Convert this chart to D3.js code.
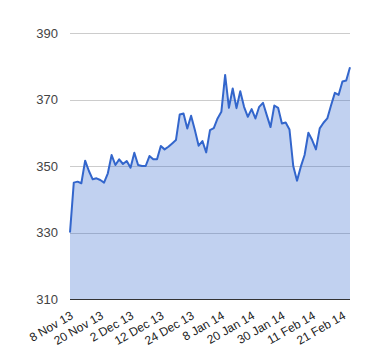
<!DOCTYPE html>
<html><head><meta charset="utf-8">
<script src="https://cdnjs.cloudflare.com/ajax/libs/d3/7.8.5/d3.min.js"></script>
<style>html,body{margin:0;padding:0;background:#fff;}svg{display:block;}</style>
</head><body>
<div id="chart"></div>
<script>
const dates = [
 "2013-11-08","2013-11-11","2013-11-12","2013-11-13","2013-11-14","2013-11-15",
 "2013-11-18","2013-11-19","2013-11-20","2013-11-21","2013-11-22",
 "2013-11-25","2013-11-26","2013-11-27","2013-11-28","2013-11-29",
 "2013-12-02","2013-12-03","2013-12-04","2013-12-05","2013-12-06",
 "2013-12-09","2013-12-10","2013-12-11","2013-12-12","2013-12-13",
 "2013-12-16","2013-12-17","2013-12-18","2013-12-19","2013-12-20",
 "2013-12-23","2013-12-24","2013-12-27","2013-12-30","2013-12-31",
 "2014-01-02","2014-01-03","2014-01-06","2014-01-07","2014-01-08",
 "2014-01-09","2014-01-10","2014-01-13","2014-01-14","2014-01-15","2014-01-16","2014-01-17",
 "2014-01-20","2014-01-21","2014-01-22","2014-01-23","2014-01-24",
 "2014-01-27","2014-01-28","2014-01-29","2014-01-30","2014-01-31",
 "2014-02-03","2014-02-04","2014-02-05","2014-02-06","2014-02-07",
 "2014-02-10","2014-02-11","2014-02-12","2014-02-13","2014-02-14",
 "2014-02-17","2014-02-18","2014-02-19","2014-02-20","2014-02-21",
 "2014-02-24","2014-02-25"
];
const values = [
 330, 345, 345.3, 344.8, 351.6, 348.5,
 346, 346.3, 345.8, 345, 347.8,
 353.3, 350.3, 352, 350.6, 351.5,
 349.5, 354, 350.3, 350, 350,
 353, 352, 352, 356, 355,
 355.8, 356.8, 357.8, 365.5, 365.8,
 361.3, 365.1, 360.8, 356.1, 357.5,
 354.1, 360.8, 361.4, 364.3, 366.3,
 377.4, 367.5, 373.3, 367.4, 372.5, 367.8, 364.8,
 367.1, 364.3, 367.8, 369, 365.3,
 361.7, 368.2, 367.5, 362.8, 363.1,
 361, 350, 345.6, 349.8, 353.3,
 360, 357.8, 355, 361.3, 363,
 364.3, 368.3, 372, 371.4, 375.4,
 375.7, 379.7
];
const tickDates = ["2013-11-08","2013-11-20","2013-12-02","2013-12-12","2013-12-24",
                   "2014-01-08","2014-01-20","2014-01-30","2014-02-11","2014-02-21"];
const tickLabels = ["8 Nov 13","20 Nov 13","2 Dec 13","12 Dec 13","24 Dec 13",
                    "8 Jan 14","20 Jan 14","30 Jan 14","11 Feb 14","21 Feb 14"];
const yTicks = [310, 330, 350, 370, 390];

const W = 380, H = 360;
const mLeft = 70, mRight = 350, mTop = 33, mBottom = 299;
const font = "Arial, 'Liberation Sans', sans-serif";

const svg = d3.select("#chart").append("svg").attr("width", W).attr("height", H);

const x = d3.scalePoint().domain(dates).range([mLeft, mRight]);
const y = d3.scaleLinear().domain([310, 390]).range([mBottom, mTop]);

// gridlines
svg.append("g").selectAll("line").data(yTicks.filter(v => v !== 310)).join("line")
  .attr("x1", mLeft).attr("x2", mRight)
  .attr("y1", d => Math.round(y(d)) + 0.5).attr("y2", d => Math.round(y(d)) + 0.5)
  .attr("stroke", "#cccccc").attr("stroke-width", 1);

// y labels
const yAxis = d3.axisLeft(y).tickValues(yTicks).tickSize(0).tickPadding(12).tickFormat(d3.format("d"));
const gy = svg.append("g").attr("transform", `translate(${mLeft},0)`).call(yAxis);
gy.select(".domain").remove();
gy.selectAll("text").attr("font-family", font).attr("font-size", 13).attr("fill", "#444");

// area
const data = dates.map((d, i) => ({d, v: values[i]}));
const area = d3.area().x(p => x(p.d)).y0(y(310)).y1(p => y(p.v));
svg.append("path").datum(data).attr("d", area)
  .attr("fill", "#3366cc").attr("fill-opacity", 0.3);

// line
const line = d3.line().x(p => x(p.d)).y(p => y(p.v));
svg.append("path").datum(data).attr("d", line)
  .attr("fill", "none").attr("stroke", "#3366cc").attr("stroke-width", 2)
  .attr("stroke-linejoin", "round");

// baseline
svg.append("line").attr("x1", mLeft).attr("x2", mRight)
  .attr("y1", Math.round(y(310)) + 0.5).attr("y2", Math.round(y(310)) + 0.5)
  .attr("stroke", "#333").attr("stroke-width", 1);

// x labels
svg.append("g").selectAll("text").data(tickDates).join("text")
  .attr("transform", d => `translate(${x(d) + 4},${318}) rotate(-30)`)
  .attr("text-anchor", "end")
  .attr("font-family", font).attr("font-size", 12).attr("fill", "#222")
  .text((d, i) => tickLabels[i]);
</script>
</body></html>
